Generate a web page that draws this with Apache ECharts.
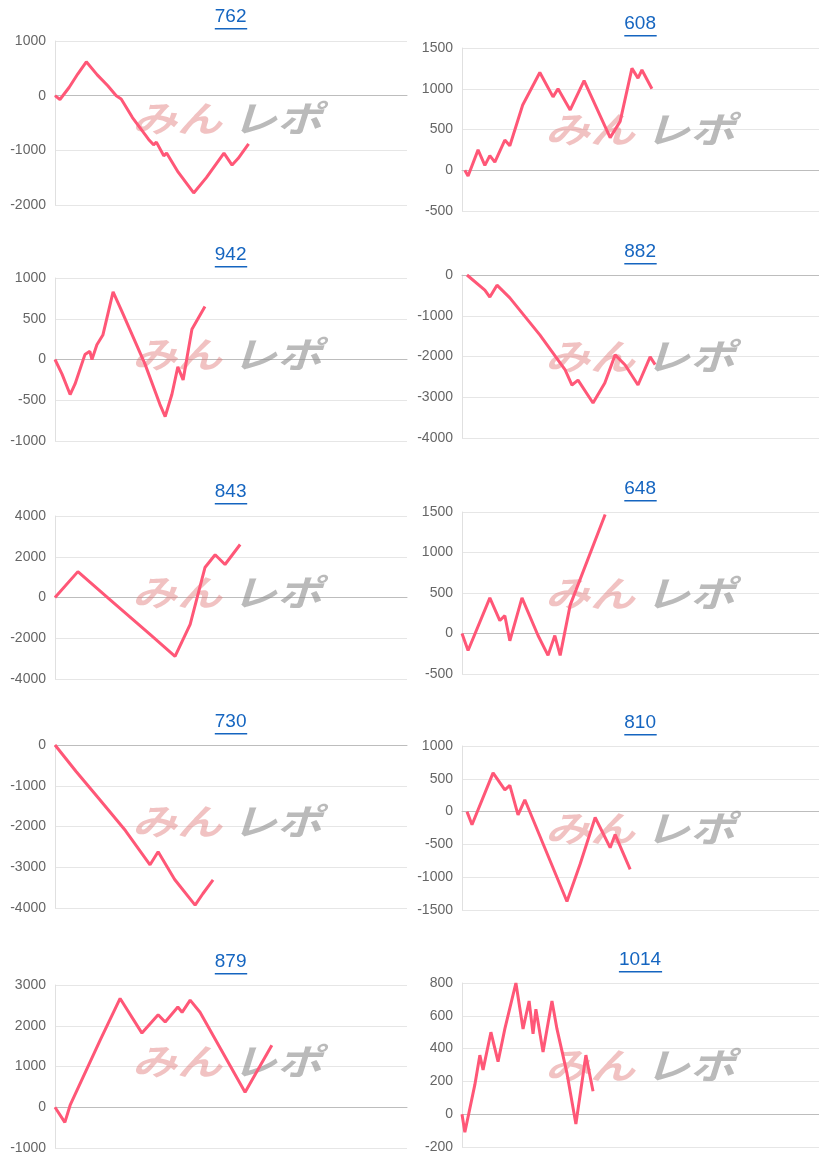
<!DOCTYPE html>
<html><head><meta charset="utf-8">
<script src="https://cdn.jsdelivr.net/npm/echarts@6/dist/echarts.min.js"></script>
<style>html,body{margin:0;padding:0;background:#fff}#c{width:819px;height:1165px}</style>
</head><body><div id="c"></div>
<script>
// panel titles
const titles = ['762','608','942','882','843','648','730','810','879','1014'];
// y-axis ranges [min,max,interval]
const yMin = [-2000,-500,-1000,-4000,-4000,-500,-4000,-1500,-1000,-200];
const yMax = [1000,1500,1000,0,4000,1500,0,1000,3000,800];
const yStep = [1000,500,500,1000,2000,500,1000,500,1000,200];
// series: [x position (0-100 of the axis), value]
const s762 = [[0,0],[1.4,-70],[4,150],[6.5,400],[8.9,620],[12,380],[15,180],[17.4,0],[18.8,-60],[22,-400],[26.6,-800],[28,-900],[28.8,-850],[30.9,-1100],[31.7,-1050],[35,-1400],[39.4,-1780],[43,-1500],[48,-1050],[50.3,-1270],[52,-1150],[55,-880]];
const s608 = [[0.8,0],[1.7,-70],[4.5,250],[6.4,60],[7.8,180],[9.2,100],[12,370],[13.4,300],[17,800],[21.8,1200],[25.5,900],[26.9,1000],[30.3,740],[34.2,1100],[41.5,400],[44.3,600],[47.6,1250],[49.3,1130],[50.4,1230],[53.2,1000]];
const s942 = [[0,0],[2,-180],[4.3,-430],[5.7,-300],[8.5,60],[9.9,100],[10.5,0],[11.9,180],[13.6,300],[16.5,830],[19,590],[25.6,-60],[29.8,-550],[31.3,-700],[33.2,-430],[34.9,-90],[36.4,-250],[38.9,370],[42.6,650]];
const s882 = [[1.4,0],[6.4,-370],[7.8,-540],[9.8,-250],[13.4,-560],[21.8,-1470],[28.9,-2330],[30.8,-2700],[32.5,-2580],[36.7,-3140],[40,-2650],[42.9,-1960],[45.7,-2210],[49.3,-2700],[52.7,-2010],[54.1,-2200]];
const s843 = [[0,0],[6.5,1270],[7,1220],[15.6,-100],[27,-1810],[34.1,-2890],[38.4,-1320],[42.6,1470],[45.5,2100],[48.3,1620],[52.6,2600]];
const s648 = [[0,0],[1.7,-210],[7.8,440],[10.6,160],[12,220],[13.4,-90],[16.8,440],[21.3,-25],[24.1,-270],[26,-25],[27.5,-270],[30.3,350],[40.1,1470]];
const s730 = [[0,0],[6,-650],[12.8,-1350],[20,-2100],[27,-2940],[29.3,-2620],[34,-3300],[39.8,-3930],[42,-3650],[44.9,-3310]];
const s810 = [[1.4,0],[2.8,-200],[8.7,590],[12,330],[13.4,400],[15.7,-50],[17.6,180],[29.4,-1370],[33.1,-800],[37.3,-90],[41.5,-550],[42.9,-350],[47.1,-880]];
const s879 = [[0,0],[2.8,-370],[4.3,50],[12.8,1640],[18.5,2670],[24.7,1820],[29.3,2270],[31.3,2090],[34.9,2460],[36.1,2330],[38.4,2630],[41.2,2330],[54,370],[61.6,1520]];
const s1014 = [[0,0],[0.8,-110],[3.6,180],[5,360],[5.9,270],[8.1,500],[10.1,320],[12,520],[15.1,800],[17.1,520],[18.8,690],[19.9,490],[20.7,640],[22.7,380],[25.2,690],[26.6,520],[29.4,250],[31.9,-60],[34.7,360],[36.7,140]];
const seriesData = [s762,s608,s942,s882,s843,s648,s730,s810,s879,s1014];

// layout
const tops = [41,48,278,275,516,512,745,746,985,983];
const bottoms = [205,211,441,438,679,674,908,910,1148,1147];
const titleY = [18,25,256,253,493,490,723,724,963,961];

const grids=[],xAxes=[],yAxes=[],series=[],graphics=[];
for(let i=0;i<10;i++){
  const right = i%2===1;
  const left = right?462:55, width = right?357:352;
  grids.push({left:left,top:tops[i],width:width,height:bottoms[i]-tops[i]});
  xAxes.push({type:'value',gridIndex:i,min:0,max:100,axisLabel:{show:false},axisTick:{show:false},splitLine:{show:false},
    axisLine:{show:true,onZero:true,lineStyle:{color:'#bdbdbd',width:1}}});
  yAxes.push({type:'value',gridIndex:i,min:yMin[i],max:yMax[i],interval:yStep[i],
    axisLine:{show:true,lineStyle:{color:'#e0e0e0'}},axisTick:{show:false},
    axisLabel:{color:'#666',fontSize:14,fontFamily:'Liberation Sans, Arial',margin:9,formatter:v=>String(v)},
    splitLine:{lineStyle:{color:'#e6e6e6'}}});
  series.push({type:'line',xAxisIndex:i,yAxisIndex:i,data:seriesData[i],showSymbol:false,
    lineStyle:{color:'#ff5777',width:3},z:3});
  const cx = left + width/2;
  const tw = titles[i].length*10.8;
  graphics.push({type:'text',x:cx-tw/2,y:titleY[i]-11,
    style:{text:titles[i],fill:'#1565c0',font:'19px "Liberation Sans", Arial'}});
  graphics.push({type:'rect',shape:{x:cx-tw/2,y:titleY[i]+10,width:tw,height:1.4},style:{fill:'#1565c0'}});
  const my = (tops[i]+bottoms[i])/2 + (right?0:-5);
  const wx = right?545:132;
  graphics.push({type:'text',x:wx,y:my-18,scaleX:1.25,z:1,style:{text:'みん',fill:'rgba(225,120,120,0.45)',font:'italic bold 36px "Noto Sans CJK JP"'}});
  graphics.push({type:'text',x:wx+100,y:my-18,scaleX:1.25,z:1,style:{text:'レポ',fill:'rgba(140,140,140,0.6)',font:'italic bold 36px "Noto Sans CJK JP"'}});
}
const chart = echarts.init(document.getElementById('c'),null,{renderer:'canvas'});
chart.setOption({animation:false,grid:grids,xAxis:xAxes,yAxis:yAxes,series:series,graphic:graphics});
</script></body></html>
